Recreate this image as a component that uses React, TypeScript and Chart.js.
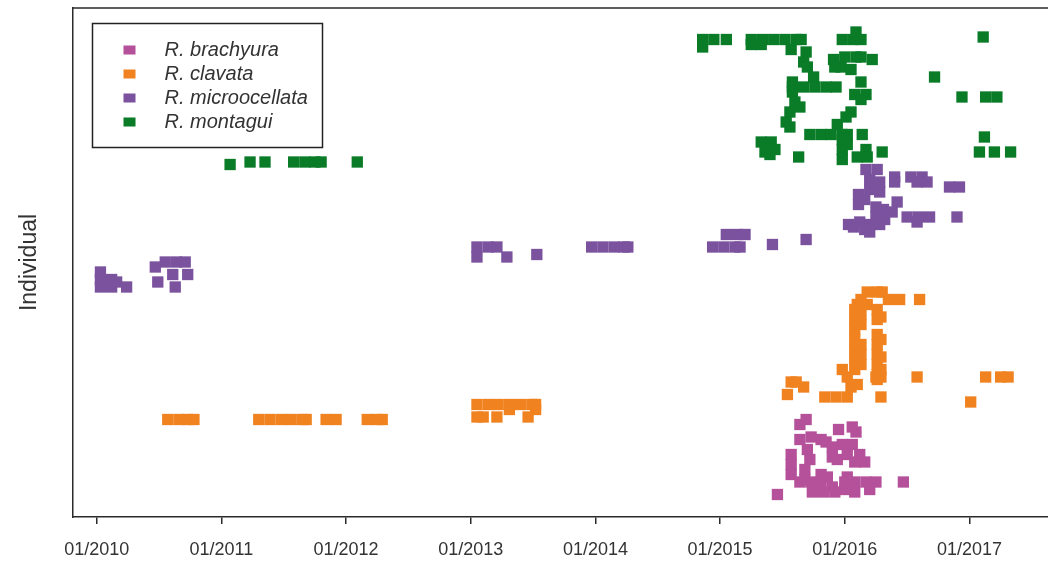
import React, { useEffect, useRef } from "react";
import { Chart, registerables } from "chart.js";

Chart.register(...registerables);

const speciesNames = ["R. brachyura", "R. clavata", "R. microocellata", "R. montagui"];
const speciesColors = ["#b4519a", "#f08220", "#7a529e", "#0a7b27"];
const yearTicks = [2010, 2011, 2012, 2013, 2014, 2015, 2016, 2017];
const xMin = 2009.81;
const xMax = 2017.63;
const yMin = 0;
const yMax = 203.6;

// detections: [decimal year, individual id]
const brachyura: [number, number][] = [
  [2015.64, 37], [2015.69, 39], [2015.95, 35], [2016.06, 36], [2016.09, 34],
  [2015.64, 31], [2015.73, 32], [2015.81, 31], [2015.85, 30],
  [2015.57, 25], [2015.57, 21], [2015.57, 17],
  [2015.70, 27], [2015.72, 23],
  [2015.90, 28], [2015.98, 29], [2016.06, 29], [2016.02, 25], [2016.12, 25], [2015.94, 23], [2016.08, 22], [2016.16, 22],
  [2015.68, 19], [2015.68, 15],
  [2015.64, 14], [2015.73, 14], [2015.81, 14], [2016.00, 14], [2016.08, 14], [2016.17, 14],
  [2015.90, 12], [2015.74, 10], [2015.83, 10], [2015.92, 10],
  [2016.25, 14], [2016.20, 11], [2015.81, 17], [2015.86, 16], [2015.90, 24],
  [2016.47, 14], [2015.46, 9], [2016.02, 16], [2016.08, 10], [2016.00, 11],
];

const clavata: [number, number][] = [
  [2010.57, 39], [2010.66, 39], [2010.73, 39], [2010.78, 39],
  [2011.30, 39], [2011.39, 39], [2011.48, 39], [2011.56, 39], [2011.65, 39], [2011.68, 39],
  [2011.84, 39], [2011.92, 39],
  [2012.17, 39], [2012.25, 39], [2012.29, 39],
  [2013.05, 45], [2013.14, 45], [2013.22, 45], [2013.31, 45], [2013.40, 45], [2013.49, 45], [2013.52, 45],
  [2013.31, 43], [2013.52, 43],
  [2013.05, 40], [2013.10, 40], [2013.21, 40], [2013.46, 40],
  [2016.18, 90], [2016.26, 90], [2016.30, 90],
  [2016.35, 87], [2016.44, 87], [2016.60, 87],
  [2016.10, 85], [2016.18, 85],
  [2016.08, 83], [2016.08, 79], [2016.08, 75], [2016.08, 71], [2016.08, 67], [2016.08, 63], [2016.08, 59],
  [2016.13, 87], [2016.13, 81], [2016.13, 77], [2016.13, 69], [2016.13, 65], [2016.13, 61],
  [2016.26, 83], [2016.26, 79], [2016.26, 73], [2016.26, 69], [2016.26, 65], [2016.26, 61], [2016.26, 57], [2016.26, 55],
  [2016.29, 80], [2016.29, 71], [2016.29, 64], [2016.29, 59],
  [2015.98, 59], [2016.02, 56], [2016.25, 56], [2016.29, 56],
  [2015.84, 48], [2015.93, 48], [2016.02, 48], [2016.05, 52], [2016.10, 53], [2016.29, 48],
  [2015.57, 54], [2015.61, 54], [2015.54, 49], [2015.67, 52],
  [2016.58, 56], [2017.13, 56], [2017.25, 56], [2017.31, 56], [2017.01, 46],
];

const microocellata: [number, number][] = [
  [2010.03, 98], [2010.03, 92], [2010.03, 95], [2010.12, 95], [2010.12, 92], [2010.16, 94], [2010.24, 92],
  [2010.55, 102], [2010.64, 102], [2010.71, 102], [2010.47, 100], [2010.61, 97], [2010.73, 97], [2010.49, 94], [2010.63, 92],
  [2013.05, 108], [2013.14, 108], [2013.21, 108], [2013.05, 104], [2013.29, 104], [2013.53, 105],
  [2013.97, 108], [2014.06, 108], [2014.15, 108], [2014.23, 108], [2014.26, 108],
  [2015.05, 113], [2015.14, 113], [2015.20, 113], [2014.94, 108], [2015.03, 108], [2015.12, 108], [2015.16, 108],
  [2015.42, 109], [2015.69, 111],
  [2016.17, 139], [2016.26, 139], [2016.20, 135], [2016.28, 134], [2016.20, 131], [2016.28, 130],
  [2016.40, 136], [2016.40, 134], [2016.53, 136], [2016.62, 136], [2016.58, 134], [2016.66, 134],
  [2016.84, 132], [2016.92, 132],
  [2016.11, 129], [2016.11, 125], [2016.16, 127], [2016.25, 124], [2016.31, 123], [2016.25, 120], [2016.32, 119],
  [2016.42, 126], [2016.38, 122],
  [2016.03, 117], [2016.12, 118], [2016.20, 117], [2016.28, 117], [2016.16, 115], [2016.07, 116], [2016.20, 114],
  [2016.50, 120], [2016.59, 120], [2016.68, 120], [2016.58, 118], [2016.90, 120],
];

const montagui: [number, number][] = [
  [2011.07, 141], [2011.23, 142], [2011.35, 142], [2011.58, 142], [2011.67, 142], [2011.75, 142], [2011.80, 142], [2012.09, 142],
  [2014.86, 191], [2014.95, 191], [2015.05, 191], [2014.86, 188],
  [2015.25, 191], [2015.34, 191], [2015.43, 191], [2015.52, 191], [2015.61, 191], [2015.65, 191], [2015.25, 189], [2015.33, 189],
  [2015.98, 191], [2016.07, 191], [2016.13, 191], [2016.09, 194],
  [2017.11, 192],
  [2015.57, 187], [2015.69, 186], [2015.67, 182], [2015.70, 180], [2015.75, 176],
  [2015.58, 172], [2015.67, 172], [2015.76, 172], [2015.85, 172], [2015.93, 172],
  [2015.58, 174], [2015.58, 170], [2015.60, 166], [2015.64, 164], [2015.56, 162], [2015.53, 158], [2015.56, 156],
  [2015.33, 150], [2015.41, 150], [2015.36, 146], [2015.44, 147], [2015.40, 145],
  [2015.63, 144],
  [2015.72, 153], [2015.81, 153], [2015.89, 153], [2015.98, 153], [2016.02, 153],
  [2015.94, 157], [2016.01, 160], [2016.05, 162],
  [2015.98, 151], [2015.98, 147], [2015.98, 143], [2016.02, 149],
  [2016.08, 169], [2016.17, 169], [2016.13, 167],
  [2016.13, 174],
  [2015.91, 183], [2016.00, 184], [2016.09, 184], [2015.97, 180], [2016.05, 179], [2015.92, 180],
  [2016.13, 184], [2016.22, 183],
  [2016.14, 153],
  [2016.10, 144], [2016.17, 147], [2016.18, 144],
  [2016.30, 146],
  [2016.72, 176],
  [2016.94, 168], [2017.13, 168], [2017.22, 168],
  [2017.12, 152],
  [2017.08, 146], [2017.20, 146], [2017.33, 146],
];

const seriesData = [brachyura, clavata, microocellata, montagui];

const textColor = "#333333";
const axisColor = "#2a2a2a";
const fontFamily = '"Liberation Sans", Arial, sans-serif';

const framePlugin = {
  id: "frameAndLegend",
  afterDraw(chart: any) {
    const { ctx, chartArea } = chart;
    ctx.save();
    ctx.strokeStyle = axisColor;
    ctx.lineWidth = 1.5;
    ctx.beginPath();
    ctx.moveTo(chartArea.left, chartArea.top);
    ctx.lineTo(chartArea.right, chartArea.top);
    ctx.stroke();

    // legend box
    const bx = chartArea.left + 19.5;
    const by = chartArea.top + 15.5;
    const bw = 230;
    const bh = 124;
    ctx.fillStyle = "#ffffff";
    ctx.fillRect(bx, by, bw, bh);
    ctx.strokeStyle = "#222222";
    ctx.lineWidth = 1.5;
    ctx.strokeRect(bx, by, bw, bh);
    ctx.font = "italic 20px " + fontFamily;
    ctx.textBaseline = "middle";
    ctx.textAlign = "left";
    speciesNames.forEach((name, i) => {
      const cy = by + 26.5 + i * 24;
      ctx.fillStyle = speciesColors[i];
      ctx.fillRect(bx + 31, cy - 4.5, 12, 9);
      ctx.fillStyle = textColor;
      ctx.fillText(name, bx + 72, cy);
    });
    ctx.restore();
  },
};

export default function App() {
  const canvasRef = useRef<HTMLCanvasElement | null>(null);

  useEffect(() => {
    if (!canvasRef.current) return;
    const chart = new Chart(canvasRef.current, {
      type: "scatter",
      data: {
        datasets: seriesData.map((arr, i) => ({
          label: speciesNames[i],
          data: arr.map(([x, y]) => ({ x, y })),
          backgroundColor: speciesColors[i],
          borderColor: speciesColors[i],
          borderWidth: 0,
          pointStyle: "rect",
          pointRadius: 8,
          pointHoverRadius: 8,
          showLine: false,
        })),
      },
      options: {
        responsive: false,
        animation: false,
        events: [],
        layout: { autoPadding: false, padding: { top: 8, left: 0, right: 0, bottom: 0 } },
        plugins: {
          legend: { display: false },
          tooltip: { enabled: false },
        },
        scales: {
          x: {
            type: "linear",
            min: xMin,
            max: xMax,
            afterBuildTicks: (scale: any) => {
              scale.ticks = yearTicks.map((v) => ({ value: v }));
            },
            afterFit: (scale: any) => {
              scale.height = 44;
              scale.paddingLeft = 0;
              scale.paddingRight = 0;
            },
            ticks: {
              color: textColor,
              font: { family: fontFamily, size: 18 },
              padding: 15,
              maxRotation: 0,
              autoSkip: false,
              callback: (v: any) => "01/" + v,
            },
            grid: {
              display: true,
              drawOnChartArea: false,
              drawTicks: true,
              tickLength: 7,
              color: axisColor,
              lineWidth: 1.5,
            },
            border: { display: true, color: axisColor, width: 1.5 },
          },
          y: {
            type: "linear",
            min: yMin,
            max: yMax,
            afterFit: (scale: any) => {
              scale.width = 73;
              scale.paddingTop = 0;
              scale.paddingBottom = 0;
            },
            ticks: { display: false },
            grid: { display: false, drawTicks: false },
            border: { display: true, color: axisColor, width: 1.5 },
            title: {
              display: true,
              text: "Individual",
              color: textColor,
              font: { family: fontFamily, size: 23 },
              padding: { top: 16, bottom: 0 },
            },
          },
        },
      },
      plugins: [framePlugin],
    } as any);
    return () => chart.destroy();
  }, []);

  return (
    <div style={{ position: "absolute", left: 0, top: 0, width: 1048, height: 561, background: "#fff" }}>
      <canvas ref={canvasRef} width={1048} height={561} style={{ width: 1048, height: 561, display: "block" }} />
    </div>
  );
}
